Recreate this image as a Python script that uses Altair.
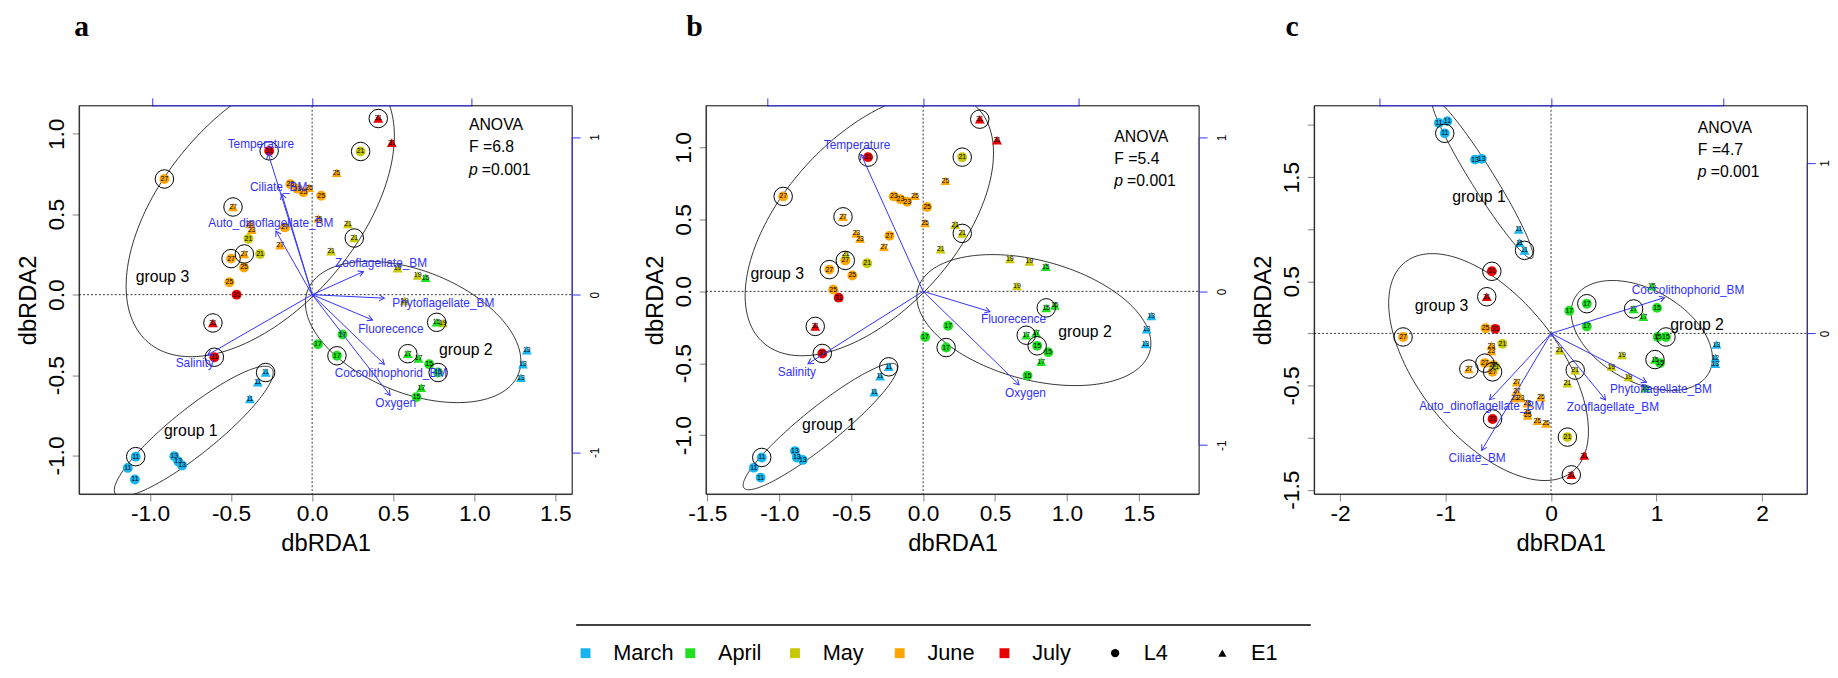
import math
import numpy as np
import pandas as pd
import altair as alt

W, H = 499, 393
BLUE = "#3232ff"
FONT = "Liberation Sans"

MONTHS = ["March", "April", "May", "June", "July"]
MONTH_COLORS = ["#16b4f0", "#1ee01e", "#c8c800", "#ffa500", "#e60000"]
STATIONS = ["L4", "E1"]
STATION_SHAPES = ["circle", "triangle-up"]

# ---------------- panel a ----------------
a_month = ["July"] * 6 + ["June"] * 17 + ["May"] * 10 + ["April"] * 11 + ["March"] * 12
a_station = ["E1", "E1", "L4", "L4", "E1", "L4",
             "L4", "L4", "L4", "L4", "E1", "L4", "E1", "E1", "E1", "E1", "L4", "E1", "E1", "E1", "L4", "L4", "L4",
             "L4", "L4", "L4", "E1", "E1", "E1", "E1", "E1", "E1", "E1",
             "E1", "E1", "L4", "L4", "L4", "E1", "E1", "L4", "L4", "E1", "L4",
             "E1", "E1", "E1", "E1", "E1", "E1", "L4", "L4", "L4", "L4", "L4", "L4"]
a_label = ["31"] * 6 + ["27", "23", "23", "25", "25", "25", "25", "27", "23", "23", "27", "25", "27", "27", "27", "25", "25",
           "21", "21", "21", "21", "21", "21", "19", "19", "19", "19",
           "15", "15", "17", "17", "17", "17", "17", "15", "15", "17", "15",
           "13", "13", "13", "11", "11", "11", "11", "11", "11", "13", "13", "13"]
a_ring = [1, 0, 1, 0, 1, 1,
          1, 0, 0, 0, 0, 0, 0, 1, 0, 0, 0, 0, 0, 1, 1, 0, 0,
          1, 0, 0, 0, 1, 0, 0, 0, 0, 0,
          0, 1, 0, 0, 1, 1, 0, 0, 1, 0, 0,
          0, 0, 0, 1, 0, 0, 1, 0, 0, 0, 0, 0]
a_x = [0.408, 0.491, -0.265, -0.466, -0.612, -0.603,
       -0.911, -0.134, -0.092, -0.053, -0.019, 0.056, 0.151, -0.488, -0.384, -0.372, -0.168, 0.039, -0.197, -0.418, -0.500, -0.420, -0.510,
       0.299, -0.393, -0.321, 0.221, 0.260, 0.117, 0.527, 0.651, 0.571, 0.807,
       0.700, 0.768, 0.187, 0.036, 0.153, 0.590, 0.656, 0.722, 0.777, 0.673, 0.644,
       1.324, 1.300, 1.288, -0.287, -0.335, -0.384, -1.088, -1.137, -1.093, -0.850, -0.826, -0.802]
a_y = [1.095, 0.945, 0.894, 0.000, -0.176, -0.389,
       0.719, 0.686, 0.659, 0.637, 0.664, 0.615, 0.758, 0.545, 0.440, 0.404, 0.418, 0.473, 0.308, 0.253, 0.224, 0.169, 0.077,
       0.890, 0.347, 0.253, 0.440, 0.352, 0.270, 0.165, 0.119, -0.040, -0.176,
       0.105, -0.172, -0.248, -0.308, -0.380, -0.367, -0.396, -0.433, -0.484, -0.578, -0.637,
       -0.345, -0.433, -0.516, -0.484, -0.545, -0.648, -1.007, -1.077, -1.149, -1.004, -1.037, -1.062]

a_vec = ["Temperature", "Ciliate_BM", "Auto_dinoflagellate_BM", "Zooflagellate_BM", "Phytoflagellate_BM",
         "Fluorecence", "Coccolithophorid_BM", "Oxygen", "Salinity"]
a_vx = [-0.276, -0.190, -0.227, 0.321, 0.452, 0.378, 0.452, 0.488, -0.654]
a_vy = [0.897, 0.639, 0.404, 0.146, -0.022, -0.161, -0.442, -0.639, -0.382]
a_lx = [-0.321, -0.210, -0.259, 0.431, 0.821, 0.493, 0.493, 0.523, -0.735]
a_ly = [0.957, 0.684, 0.455, 0.202, -0.052, -0.219, -0.494, -0.689, -0.431]

a_ell_cx = [-0.73, 0.623, -0.32]
a_ell_cy = [-0.85, -0.232, 0.52]
a_ell_a = [0.62, 0.70, 1.07]
a_ell_b = [0.14, 0.38, 0.60]
a_ell_ang = [39, -22, 50]

a_grp_x = [-0.748, 0.948, -0.923]
a_grp_y = [-0.846, -0.345, 0.110]
a_anova = ["ANOVA", "F =6.8"]
a_anova_x = 0.967
a_anova_y = [1.055, 0.919, 0.776]

# ---------------- panel b ----------------
b_month = ["July"] * 6 + ["June"] * 17 + ["May"] * 9 + ["April"] * 12 + ["March"] * 12
b_station = ["E1", "E1", "L4", "L4", "E1", "L4",
             "L4", "L4", "L4", "L4", "E1", "L4", "E1", "E1", "E1", "E1", "E1", "L4", "E1", "L4", "L4", "L4", "L4",
             "L4", "E1", "E1", "E1", "L4", "E1", "E1", "E1", "E1",
             "E1", "E1", "E1", "L4", "L4", "L4", "E1", "E1", "L4", "L4", "E1", "L4",
             "E1", "E1", "E1", "E1", "E1", "E1", "L4", "L4", "L4", "L4", "L4", "L4"]
b_label = ["31"] * 6 + ["27", "23", "23", "23", "25", "25", "25", "25", "27", "23", "23", "27", "27", "27", "27", "25", "25",
           "21", "21", "21", "21", "21", "21", "19", "19", "19",
           "15", "15", "15", "17", "17", "17", "17", "17", "15", "15", "17", "15",
           "13", "13", "13", "11", "11", "11", "11", "11", "11", "13", "13", "13"]
b_ring = [1, 0, 1, 0, 1, 1,
          1, 0, 0, 0, 0, 0, 0, 0, 1, 0, 0, 0, 0, 1, 1, 0, 0,
          1, 0, 1, 0, 0, 0, 0, 0, 0,
          0, 1, 0, 0, 0, 1, 1, 0, 1, 0, 0, 0,
          0, 0, 0, 1, 0, 0, 1, 0, 0, 0, 0, 0]
b_x = [0.394, 0.514, -0.383, -0.587, -0.750, -0.701,
       -0.973, -0.204, -0.158, -0.111, -0.057, 0.027, 0.155, 0.014, -0.557, -0.465, -0.438, -0.234, -0.272, -0.541, -0.652, -0.492, -0.625,
       0.272, 0.223, 0.272, 0.122, -0.389, -0.538, 0.603, 0.739, 0.652,
       0.853, 0.856, 0.916, 0.174, 0.014, 0.160, 0.717, 0.785, 0.793, 0.870, 0.821, 0.726,
       1.587, 1.554, 1.546, -0.239, -0.299, -0.340, -1.122, -1.177, -1.130, -0.891, -0.878, -0.837]
b_y = [1.197, 1.050, 0.933, -0.044, -0.244, -0.432,
       0.660, 0.660, 0.640, 0.623, 0.664, 0.586, 0.769, 0.476, 0.518, 0.403, 0.366, 0.386, 0.310, 0.215, 0.151, 0.110, 0.012,
       0.933, 0.464, 0.403, 0.293, 0.195, 0.256, 0.225, 0.208, 0.037,
       0.171, -0.115, -0.098, -0.239, -0.318, -0.391, -0.305, -0.288, -0.379, -0.423, -0.489, -0.586,
       -0.171, -0.264, -0.366, -0.525, -0.591, -0.701, -1.155, -1.226, -1.295, -1.111, -1.155, -1.172]

b_vec = ["Temperature", "Fluorecence", "Oxygen", "Salinity"]
b_vx = [-0.399, 0.430, 0.617, -0.740]
b_vy = [0.890, -0.132, -0.607, -0.471]
b_lx = [-0.425, 0.581, 0.658, -0.811]
b_ly = [0.948, -0.181, -0.659, -0.523]

b_ell_cx = [-0.715, 0.77, -0.374]
b_ell_cy = [-0.94, -0.20, 0.466]
b_ell_a = [0.681, 0.835, 1.105]
b_ell_b = [0.13, 0.415, 0.60]
b_ell_ang = [38.9, -15, 48]

b_grp_x = [-0.655, 1.125, -1.014]
b_grp_y = [-0.928, -0.281, 0.122]
b_anova = ["ANOVA", "F =5.4"]
b_anova_x = 1.329
b_anova_y = [1.070, 0.921, 0.765]

# ---------------- panel c ----------------
c_month = ["March"] * 11 + ["July"] * 6 + ["June"] * 18 + ["May"] * 9 + ["April"] * 12
c_station = ["L4", "L4", "L4", "L4", "L4", "E1", "E1", "E1", "E1", "E1", "E1",
             "L4", "E1", "L4", "L4", "E1", "E1",
             "L4", "L4", "E1", "E1", "E1", "L4", "L4", "L4", "E1", "E1", "E1", "E1", "E1", "E1", "E1", "E1", "E1", "E1",
             "L4", "L4", "E1", "E1", "E1", "L4", "E1", "E1", "E1",
             "E1", "L4", "L4", "L4", "E1", "E1", "L4", "L4", "L4", "E1", "L4", "E1"]
c_label = ["11", "11", "11", "13", "13", "11", "11", "11", "13", "12", "13"] + ["31"] * 6 + \
          ["27", "25", "23", "23", "27", "27", "27", "27", "27", "27", "23", "23", "23", "25", "25", "25", "25", "25",
           "21", "21", "21", "21", "21", "21", "19", "19", "19",
           "15", "17", "17", "17", "17", "17", "15", "15", "15", "15", "15", "15"]
c_ring = [0, 0, 1, 0, 0, 0, 0, 1, 0, 0, 0,
          1, 1, 0, 1, 0, 1,
          1, 0, 0, 0, 1, 1, 0, 1, 0, 0, 0, 0, 0, 0, 0, 0, 0, 0,
          0, 0, 0, 1, 0, 1, 0, 0, 0,
          0, 1, 0, 0, 1, 0, 0, 0, 1, 1, 0, 0]
c_x = [-1.063, -0.982, -1.007, -0.720, -0.657, -0.306, -0.299, -0.251, 1.568, 1.557, 1.557,
       -0.561, -0.609, -0.528, -0.554, 0.314, 0.192,
       -1.402, -0.620, -0.565, -0.565, -0.779, -0.627, -0.546, -0.554, -0.325, -0.325, -0.343, -0.288, -0.225, -0.225, -0.221, -0.129, -0.048, -0.096,
       -0.461, -0.528, 0.081, 0.229, 0.155, 0.155, 0.672, 0.572, 0.734,
       0.956, 0.339, 0.173, 0.339, 0.782, 0.875, 1.004, 1.011, 1.089, 0.985, 1.033, 0.893]
c_y = [2.020, 2.037, 1.920, 1.668, 1.675, 0.998, 0.871, 0.797, -0.107, -0.235, -0.291,
       0.596, 0.352, 0.044, -0.821, -1.172, -1.357,
       -0.034, 0.050, -0.117, -0.168, -0.342, -0.285, -0.302, -0.369, -0.469, -0.553, -0.620, -0.620, -0.670, -0.754, -0.787, -0.838, -0.864, -0.613,
       -0.100, -0.318, -0.161, -0.352, -0.479, -0.995, -0.208, -0.318, -0.419,
       0.452, 0.285, 0.218, 0.067, 0.235, 0.161, 0.245, -0.034, -0.034, -0.251, -0.285, -0.526]

c_vec = ["Coccolithophorid_BM", "Phytoflagellate_BM", "Zooflagellate_BM", "Auto_dinoflagellate_BM", "Ciliate_BM"]
c_vx = [0.661, 0.555, 0.317, -0.358, -0.403]
c_vy = [0.211, -0.287, -0.390, -0.390, -0.686]
c_lx = [0.797, 0.639, 0.360, -0.403, -0.430]
c_ly = [0.256, -0.328, -0.434, -0.426, -0.733]

c_ell_cx = [-0.65, 0.86, -0.592]
c_ell_cy = [1.485, -0.02, -0.323]
c_ell_a = [0.898, 0.73, 1.28]
c_ell_b = [0.11, 0.44, 0.665]
c_ell_ang = [-58.4, -30, -52]

c_grp_x = [-0.683, 1.384, -1.037]
c_grp_y = [1.307, 0.077, 0.258]
c_anova = ["ANOVA", "F =4.7"]
c_anova_x = 1.391
c_anova_y = [1.966, 1.759, 1.548]

GROUPS = ["group 1", "group 2", "group 3"]
P_TEXT = "=0.001"
AXIS_ENDS = [-1, 1]
ORIGIN = [0]

HEAD = "M -1 -0.58 L 0 0 L -1 0.58"


def fmt_expr(fmt):
    return "replace(format(datum.value, '%s'), '\u2212', '-')" % fmt


def ellipse_df(cx, cy, a, b, ang):
    rows = []
    t = np.linspace(0, 2 * np.pi, 181)
    for g in range(len(cx)):
        th = math.radians(ang[g])
        xs = cx[g] + a[g] * np.cos(t) * math.cos(th) - b[g] * np.sin(t) * math.sin(th)
        ys = cy[g] + a[g] * np.cos(t) * math.sin(th) + b[g] * np.sin(t) * math.cos(th)
        for i in range(len(t)):
            rows.append({"g": g, "i": i, "x": xs[i], "y": ys[i]})
    return pd.DataFrame(rows)


color_legend = alt.Legend(orient="none", legendX=501.5, legendY=543, direction="horizontal",
                          columns=5, gridAlign="all", columnPadding=5, symbolType="square",
                          symbolSize=100, symbolStrokeWidth=0, labelFontSize=22, labelFont=FONT,
                          labelOffset=17, title=None, padding=0, labelColor="black")
shape_legend = alt.Legend(orient="none", legendX=1037.5, legendY=543, direction="horizontal",
                          columns=2, gridAlign="all", columnPadding=41.5, symbolSize=70,
                          symbolFillColor="black", symbolStrokeWidth=0, labelFontSize=22,
                          labelFont=FONT, labelOffset=18, title=None, padding=0, labelColor="black")


def make_panel(letter, dx, month, station, label, ring, px, py,
               vec, vx, vy, lx, ly, ecx, ecy, ea, eb, eang, gx, gy, anova, ax, ay,
               pdx, pdy, sdx, sdy, xticks, yticks, xfmt, ylabexpr, right_vals,
               legend_line=False, extra=0, rpad=10):
    pts = pd.DataFrame({"x": px, "y": py, "month": month, "station": station,
                        "label": label, "ring": ring})
    xaxis = alt.Axis(values=xticks, labelExpr=fmt_expr(xfmt), tickSize=7, labelPadding=2,
                     labelFontSize=23, title="dbRDA1", titleFontSize=24, titleFontWeight="normal",
                     titleX=W / 2, titleY=57, titleBaseline="alphabetic", titleAlign="center",
                     grid=False, domainColor="#808080", tickColor="#808080", labelFlush=False,
                     labelOverlap=False, labelColor="black", titleColor="black")
    yaxis = alt.Axis(values=yticks, labelExpr=ylabexpr, tickSize=7, labelPadding=9, labelAngle=270,
                     labelAlign="center", labelBaseline="alphabetic", labelFontSize=23,
                     title="dbRDA2", titleFontSize=24, titleFontWeight="normal", titleAngle=270,
                     titleX=-44, titleY=H / 2, titleBaseline="alphabetic", titleAlign="center",
                     grid=False, domainColor="#808080", tickColor="#808080", labelFlush=False,
                     labelOverlap=False, labelColor="black", titleColor="black")
    xs = alt.Scale(domain=pdx, range=[0, W], nice=False, zero=False)
    ys = alt.Scale(domain=pdy, nice=False, zero=False)

    def X(f):
        return alt.X(f, type="quantitative", scale=xs, axis=xaxis)

    def Y(f):
        return alt.Y(f, type="quantitative", scale=ys, axis=yaxis)

    frame = alt.Chart(pd.DataFrame({"v": ORIGIN})).mark_rect(
        fill=None, stroke="black", strokeWidth=1).encode(
        x=alt.value(0), x2=alt.value(W), y=alt.value(0), y2=alt.value(H))
    ell = alt.Chart(ellipse_df(ecx, ecy, ea, eb, eang)).mark_line(
        color="black", strokeWidth=0.8, clip=True).encode(x=X("x"), y=Y("y"), detail="g:N", order="i:Q")
    zx = alt.Chart(pd.DataFrame({"x": ORIGIN})).mark_rule(
        color="black", strokeDash=[2, 2], strokeWidth=0.8).encode(x=X("x"))
    zy = alt.Chart(pd.DataFrame({"y": ORIGIN})).mark_rule(
        color="black", strokeDash=[2, 2], strokeWidth=0.8).encode(y=Y("y"), x=alt.value(0), x2=alt.value(W))
    points = alt.Chart(pts).mark_point(filled=True, opacity=1, size=100, strokeWidth=0).encode(
        x=X("x"), y=Y("y"),
        color=alt.Color("month:N", scale=alt.Scale(domain=MONTHS, range=MONTH_COLORS), legend=color_legend),
        shape=alt.Shape("station:N", scale=alt.Scale(domain=STATIONS, range=STATION_SHAPES), legend=shape_legend))
    rings = alt.Chart(pts).transform_filter("datum.ring == 1").mark_point(
        shape="circle", filled=False, color="black", size=350, strokeWidth=1, opacity=1).encode(
        x=X("x"), y=Y("y"))
    labs = alt.Chart(pts).mark_text(fontSize=7, color="black", font=FONT).encode(
        x=X("x"), y=Y("y"), text="label:N")
    grp = alt.Chart(pd.DataFrame({"x": gx, "y": gy, "t": GROUPS})).mark_text(
        fontSize=16, color="black", font=FONT).encode(x=X("x"), y=Y("y"), text="t:N")
    an = alt.Chart(pd.DataFrame({"x": [ax, ax], "y": ay[:2], "t": anova})).mark_text(
        fontSize=16, color="black", font=FONT, align="left").encode(x=X("x"), y=Y("y"), text="t:N")
    anp = alt.Chart(pd.DataFrame({"x": [ax], "y": [ay[2]], "t": ["p"]})).mark_text(
        fontSize=16, color="black", font=FONT, align="left", fontStyle="italic").encode(
        x=X("x"), y=Y("y"), text="t:N")
    anv = alt.Chart(pd.DataFrame({"x": [ax], "y": [ay[2]], "t": [P_TEXT]})).mark_text(
        fontSize=16, color="black", font=FONT, align="left", dx=13).encode(
        x=X("x"), y=Y("y"), text="t:N")
    prim = alt.layer(frame, ell, zx, zy, points, rings, labs, grp, an, anp, anv)

    top_axis = alt.Axis(orient="top", values=[-1, 0, 1], labels=False, tickColor=BLUE, tickSize=8,
                        domain=False, title=None, grid=False)
    right_axis = alt.Axis(orient="right", values=right_vals, labelExpr=fmt_expr("d"), labelAngle=270,
                          labelAlign="center", labelBaseline="top", labelPadding=rpad, labelFontSize=12,
                          tickColor=BLUE, tickSize=8, domain=False, title=None, grid=False,
                          labelFlush=False, labelOverlap=False, labelColor="black", offset=-extra)
    sxs = alt.Scale(domain=sdx, range=[0, W], nice=False, zero=False)
    sys_ = alt.Scale(domain=sdy, nice=False, zero=False)

    def SX(f):
        return alt.X(f, type="quantitative", scale=sxs, axis=top_axis)

    def SY(f):
        return alt.Y(f, type="quantitative", scale=sys_, axis=right_axis)

    kx = W / (sdx[1] - sdx[0])
    ky = H / (sdy[1] - sdy[0])
    arr = pd.DataFrame({"sx": vx, "sy": vy, "lx": lx, "ly": ly, "name": vec,
                        "ox": ORIGIN * len(vec), "oy": ORIGIN * len(vec)})
    top_rule = alt.Chart(pd.DataFrame({"sx": [AXIS_ENDS[0]], "sx2": [AXIS_ENDS[1]]})).mark_rule(
        color=BLUE, strokeWidth=1).encode(x=SX("sx"), x2="sx2", y=alt.value(0))
    right_rule = alt.Chart(pd.DataFrame({"sy": [AXIS_ENDS[1]], "sy2": [AXIS_ENDS[0]]})).mark_rule(
        color=BLUE, strokeWidth=1, clip=True).encode(y=SY("sy"), y2="sy2", x=alt.value(W))
    shafts = alt.Chart(arr).mark_rule(color=BLUE, strokeWidth=1).encode(
        x=SX("sx"), y=SY("sy"), x2="ox", y2="oy")
    heads = alt.Chart(arr).transform_calculate(
        ang="atan2(-datum.sy * %f, datum.sx * %f) * 180 / PI" % (ky, kx)).mark_point(
        shape=HEAD, filled=False, color=BLUE, size=110, strokeWidth=1, opacity=1).encode(
        x=SX("sx"), y=SY("sy"), angle=alt.Angle("ang:Q", scale=None))
    vlabs = alt.Chart(arr).mark_text(color=BLUE, fontSize=12, font=FONT).encode(
        x=SX("lx"), y=SY("ly"), text="name:N")
    sec_layers = [top_rule, right_rule, shafts, heads, vlabs]
    if legend_line:
        sec_layers.append(alt.Chart(pd.DataFrame({"v": ORIGIN})).mark_rule(
            color="black", strokeWidth=1.5).encode(
            x=alt.value(-131.5), x2=alt.value(612), y=alt.value(525.5)))
    sec = alt.layer(*sec_layers)

    return alt.layer(prim, sec, title=alt.TitleParams(
        letter, anchor="start", font="Liberation Serif", fontSize=30, fontWeight="bold",
        color="black", dx=dx, offset=32, baseline="alphabetic", frame="group")).resolve_scale(
        x="independent", y="independent").properties(width=W + extra, height=H)


lab1 = fmt_expr(".1f")
labc = "indexof([1.5, 0.5, -0.5, -1.5], datum.value) >= 0 ? " + fmt_expr(".1f") + " : ''"

pa = make_panel("a", -5, a_month, a_station, a_label, a_ring, a_x, a_y,
                a_vec, a_vx, a_vy, a_lx, a_ly, a_ell_cx, a_ell_cy, a_ell_a, a_ell_b, a_ell_ang,
                a_grp_x, a_grp_y, a_anova, a_anova_x, a_anova_y,
                [-1.437, 1.604], [-1.240, 1.174], [-1.459, 1.628], [-1.265, 1.198],
                [-1.0, -0.5, 0.0, 0.5, 1.0, 1.5], [-1.0, -0.5, 0.0, 0.5, 1.0], ".1f", lab1, [-1, 0, 1],
                extra=18.5)
pb = make_panel("b", -20, b_month, b_station, b_label, b_ring, b_x, b_y,
                b_vec, b_vx, b_vy, b_lx, b_ly, b_ell_cx, b_ell_cy, b_ell_a, b_ell_b, b_ell_ang,
                b_grp_x, b_grp_y, b_anova, b_anova_x, b_anova_y,
                [-1.509, 1.919], [-1.410, 1.290], [-1.395, 1.774], [-1.318, 1.206],
                [-1.5, -1.0, -0.5, 0.0, 0.5, 1.0, 1.5], [-1.0, -0.5, 0.0, 0.5, 1.0], ".1f", lab1, [-1, 0, 1],
                legend_line=True)
pc = make_panel("c", -29, c_month, c_station, c_label, c_ring, c_x, c_y,
                c_vec, c_vx, c_vy, c_lx, c_ly, c_ell_cx, c_ell_cy, c_ell_a, c_ell_b, c_ell_ang,
                c_grp_x, c_grp_y, c_anova, c_anova_x, c_anova_y,
                [-2.244, 2.428], [-1.542, 2.184], [-1.377, 1.490], [-0.943, 1.336],
                [-2, -1, 0, 1, 2], [-1.5, -1.0, -0.5, 0.0, 0.5, 1.0, 1.5, 2.0], "d", labc, [0, 1],
                rpad=4)

chart = alt.hconcat(pa, pb, pc, spacing=116.5, bounds="flush").properties(
    padding={"left": 9, "top": 0, "right": 0, "bottom": 0}
).configure(font=FONT).configure_view(stroke=None)

chart.save("out.html", embed_options={"renderer": "svg", "actions": False})
